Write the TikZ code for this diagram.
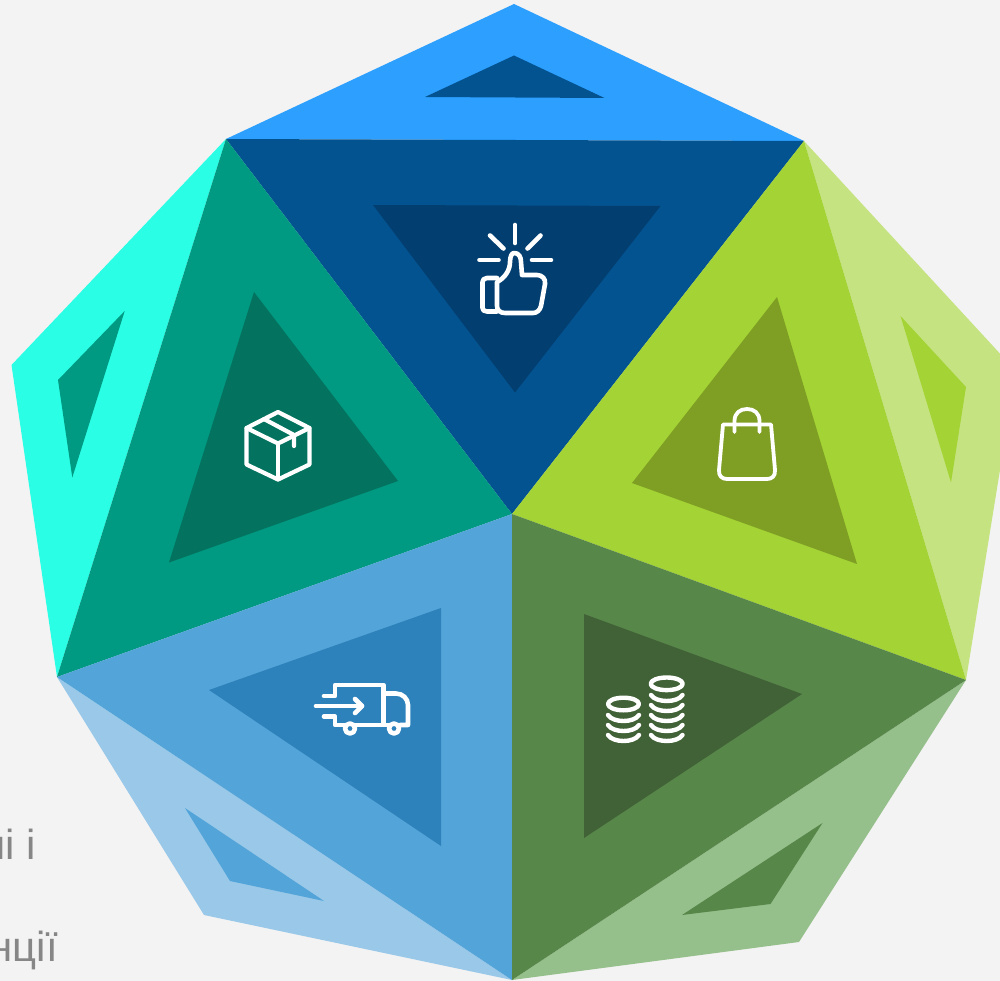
\documentclass[tikz,border=0pt]{standalone}
\usepackage{fontspec}
\setmainfont{Liberation Sans}
\definecolor{bgc}{HTML}{F3F3F3}
\definecolor{topL}{HTML}{2C9FFF}
\definecolor{topM}{HTML}{045391}
\definecolor{topD}{HTML}{023E70}
\definecolor{tealL}{HTML}{2AFFE5}
\definecolor{tealM}{HTML}{009981}
\definecolor{tealD}{HTML}{03735F}
\definecolor{limeL}{HTML}{C6E382}
\definecolor{limeM}{HTML}{A3D334}
\definecolor{limeD}{HTML}{7F9F24}
\definecolor{blueL}{HTML}{99C8E9}
\definecolor{blueM}{HTML}{53A4D8}
\definecolor{blueD}{HTML}{2D82BB}
\definecolor{grnL}{HTML}{96C08B}
\definecolor{grnM}{HTML}{58874A}
\definecolor{grnD}{HTML}{416237}
\definecolor{txtc}{HTML}{868686}
\tikzset{
  icon/.style={draw=white,line width=4.6pt,line cap=round,line join=round},
  iconbox/.style={draw=white,line width=4.2pt,line cap=round,line join=round},
  iconbag/.style={draw=white,line width=3.8pt,line cap=round,line join=round},
  iconcoin/.style={draw=white,line width=4.4pt,line cap=round,line join=round},
  lbl/.style={anchor=base east,inner sep=0pt,text=txtc,font=\fontsize{42}{42}\selectfont}
}
\begin{document}
\begin{tikzpicture}[x=1pt,y=-1pt]
\useasboundingbox (0,0) rectangle (1000,981);
\clip (0,0) rectangle (1000,981);
\fill[bgc] (0,0) rectangle (1000,981);
% labels
\node[lbl] (lineA) at (36,859) {ні і};
\node[lbl] (lineB) at (58,961) {нції};
% outer facets
\fill[topL] (226,139) -- (514,4) -- (804,141) -- cycle;
\fill[tealL] (226,139) -- (11.5,365) -- (57,677) -- cycle;
\fill[limeL] (804,141) -- (1016,371) -- (966,680) -- cycle;
\fill[blueL] (57,677) -- (204,915) -- (512,980) -- cycle;
\fill[grnL] (966,680) -- (799,942) -- (512,980) -- cycle;
% main facets
\fill[topM] (226,139) -- (804,141) -- (512,514) -- cycle;
\fill[tealM] (226,139) -- (512,514) -- (57,677) -- cycle;
\fill[limeM] (804,141) -- (966,680) -- (512,514) -- cycle;
\fill[blueM] (57,677) -- (512,514) -- (512,980) -- cycle;
\fill[grnM] (512,514) -- (966,680) -- (512,980) -- cycle;
% inner triangles of outer facets
\fill[topM] (514,55.5) -- (425,97) -- (604.5,98) -- cycle;
\fill[tealM] (124.7,311) -- (58,380) -- (72.3,477.5) -- cycle;
\fill[limeM] (900.5,316) -- (966,387) -- (951,482.5) -- cycle;
\fill[blueM] (185,808) -- (324,901) -- (230,881) -- cycle;
\fill[grnM] (822.5,823) -- (770.5,904) -- (682,915) -- cycle;
% inner triangles of main facets
\fill[topD] (373,205) -- (660.5,206) -- (515,392.5) -- cycle;
\fill[tealD] (254,292) -- (398,481) -- (169,562.5) -- cycle;
\fill[limeD] (777,297) -- (857,564) -- (632,483) -- cycle;
\fill[blueD] (441,608) -- (441,846) -- (209,690) -- cycle;
\fill[grnD] (584,614) -- (802,694) -- (584,838) -- cycle;
% thumb icon
\draw[icon] (515,225) -- (515,243);
\draw[icon] (490,235.5) -- (503.5,248.5);
\draw[icon] (540.5,235.5) -- (527.5,248.5);
\draw[icon] (479.5,260) -- (498.5,260);
\draw[icon] (532,260) -- (551,260);
\draw[icon] (497,278) -- (487,278) .. controls (484,278) and (482.5,280) .. (482.5,282) -- (482.5,308) .. controls (482.5,310) and (484,311.5) .. (487,311.5) -- (497,311.5);
\draw[icon] (497,282) .. controls (505,278) and (510,270) .. (510,262) .. controls (510,256) and (512,253) .. (514,253) .. controls (519,253) and (521,257) .. (521,262) -- (522,275) -- (537,275) .. controls (542,275) and (546,279) .. (545,284) -- (541,306) .. controls (540,310) and (537,313) .. (533,313) -- (505,313) .. controls (500,313) and (497,310) .. (497,306) -- cycle;
% box icon
\draw[iconbox] (278,412) -- (309.5,428) -- (309.5,464.5) -- (278,479.5) -- (246.5,464.5) -- (246.5,428) -- cycle;
\draw[iconbox] (246.5,428) -- (278,443.5) -- (309.5,428);
\draw[iconbox] (278,443.5) -- (278,479.5);
\draw[iconbox] (264,419) -- (294,435) -- (294,446);
% bag icon
\draw[iconbag] (723,424.5) -- (771,424.5) -- (775,470) .. controls (775.5,476) and (772,479) .. (767,479) -- (727,479) .. controls (722,479) and (718.5,476) .. (719,470) -- cycle;
\draw[iconbag] (734.5,432) -- (734.5,421) .. controls (734.5,413) and (740,409) .. (747,409) .. controls (754,409) and (759.5,413) .. (759.5,421) -- (759.5,432);
% truck icon
\draw[icon] (324,696) -- (335,696) -- (335,685) -- (383.5,685) -- (383.5,725) -- (356,725);
\draw[icon] (344,725) -- (335,725) -- (335,716.5) -- (324,716.5);
\draw[icon] (316,706) -- (362,706);
\draw[icon] (355,699) -- (362,706) -- (355,713);
\draw[icon] (383.5,693.5) -- (396,693.5) .. controls (403,693.5) and (408,699) .. (408,705) -- (408,725) -- (400,725);
\draw[icon] (383.5,725) -- (388,725);
\draw[icon] (350,728.5) circle[radius=5];
\draw[icon] (394,728.5) circle[radius=5];
% coins icon
\draw[iconcoin] (666.7,683.8) ellipse[x radius=16,y radius=6.3];
\foreach \yy in {695,705,715,725,735}{
  \draw[iconcoin] (651,\yy) .. controls (656,\yy+8) and (677.5,\yy+8) .. (682.5,\yy);
}
\draw[iconcoin] (623.5,704) ellipse[x radius=15.5,y radius=6.3];
\foreach \yy in {715,725,735}{
  \draw[iconcoin] (608,\yy) .. controls (613,\yy+8) and (634,\yy+8) .. (639,\yy);
}
\end{tikzpicture}
\end{document}
